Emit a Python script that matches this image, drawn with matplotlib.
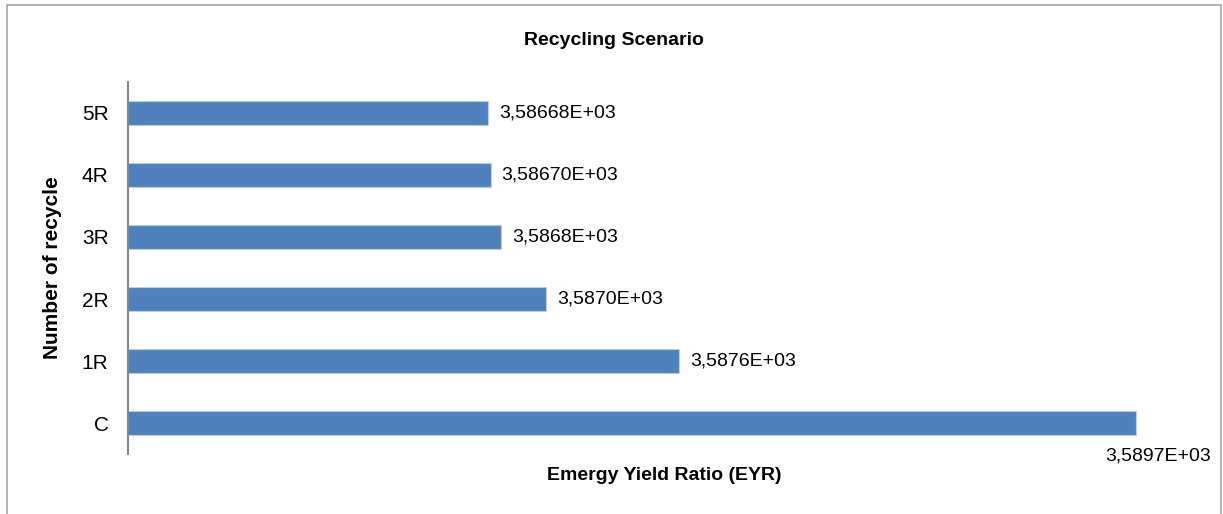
import matplotlib
matplotlib.use("Agg")
import matplotlib.pyplot as plt
from matplotlib.patches import Rectangle

plt.rcParams["font.family"] = ["Liberation Sans Narrow", "Liberation Sans", "DejaVu Sans"]

# data (bottom to top)
categories = ["C", "1R", "2R", "3R", "4R", "5R"]
eyr_values = [3589.70, 3587.57, 3586.95, 3586.74, 3586.69, 3586.68]
value_labels = ["3,5897E+03", "3,5876E+03", "3,5870E+03", "3,5868E+03",
                "3,58670E+03", "3,58668E+03"]

fig = plt.figure(figsize=(12.23, 5.14), dpi=100)
ax = fig.add_axes([0.1047, 0.1167, 0.877, 0.7238])

ypos = range(len(categories))
ax.barh(ypos, eyr_values, height=0.39, left=0, color="#4F81BD",
        edgecolor="#B9CDE5", linewidth=0.8)
ax.set_xlim(3585.0, 3590.0)
ax.set_ylim(-0.5, len(categories) - 0.5)

for i, (v, lab) in enumerate(zip(eyr_values, value_labels)):
    if i == 0:
        # label of the longest bar sits under its end
        ax.annotate(lab, (v, i), xytext=(-22, -24), textcoords="offset points",
                    ha="left", va="center", fontsize=14)
    else:
        ax.annotate(lab, (v, i), xytext=(8, 0), textcoords="offset points",
                    ha="left", va="center", fontsize=14)

ax.set_yticks(list(ypos))
ax.set_yticklabels(categories, fontsize=15)
ax.tick_params(axis="y", length=0, pad=14)
ax.set_xticks([])

for side in ["top", "right", "bottom"]:
    ax.spines[side].set_visible(False)
ax.spines["left"].set_color("#868686")
ax.spines["left"].set_linewidth(1.5)

# title is centred on the whole chart, not on the plot area
fig.suptitle("Recycling Scenario", x=0.502, y=0.922, va="center",
             fontsize=14, fontweight="bold")
ax.set_xlabel("Emergy Yield Ratio (EYR)", fontsize=14, fontweight="bold", labelpad=9)
ax.set_ylabel("Number of recycle", fontsize=15, fontweight="bold", labelpad=14)

# outer chart border
fig.patches.append(Rectangle((7 / 1223, -0.01), 1214 / 1223, 1 - 5 / 514 + 0.01,
                             transform=fig.transFigure, fill=False,
                             edgecolor="#A6A6A6", linewidth=1.2))

fig.savefig("out.png", dpi=100)
